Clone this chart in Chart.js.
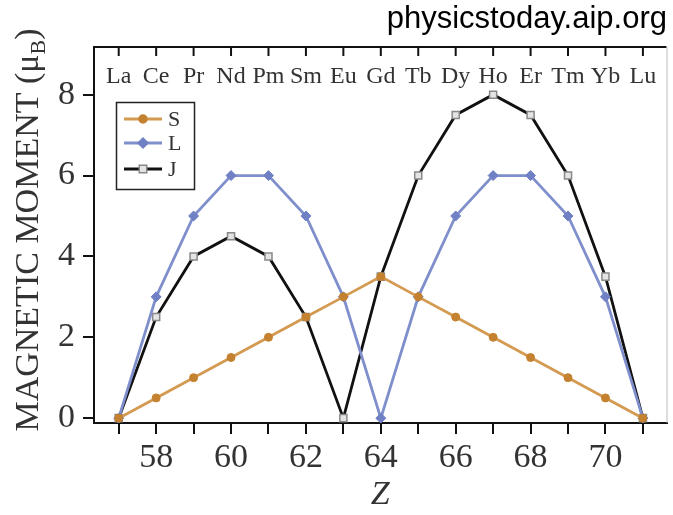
<!DOCTYPE html>
<html>
<head>
<meta charset="utf-8">
<script src="https://cdn.jsdelivr.net/npm/chart.js@4.4.1/dist/chart.umd.min.js"></script>
<style>
  html, body { margin: 0; padding: 0; background: #fff; }
  #wrap { width: 673px; height: 515px; }
</style>
</head>
<body>
<div id="wrap"><canvas id="momentChart" width="673" height="515"></canvas></div>
<script>
// lanthanide series, Z = 57 .. 71
const zValues = [57, 58, 59, 60, 61, 62, 63, 64, 65, 66, 67, 68, 69, 70, 71];
const elements = ["La", "Ce", "Pr", "Nd", "Pm", "Sm", "Eu", "Gd", "Tb", "Dy", "Ho", "Er", "Tm", "Yb", "Lu"];
const spinS = [0, 0.5, 1, 1.5, 2, 2.5, 3, 3.5, 3, 2.5, 2, 1.5, 1, 0.5, 0];
const orbitalL = [0, 3, 5, 6, 6, 5, 3, 0, 3, 5, 6, 6, 5, 3, 0];
const totalJ = [0, 2.5, 4, 4.5, 4, 2.5, 0, 3.5, 6, 7.5, 8, 7.5, 6, 3.5, 0];
const seriesNames = ["S", "L", "J"];

const serif = "'Liberation Serif', 'DejaVu Serif', serif";

function toPoints(values) {
  return zValues.map((z, i) => ({ x: z, y: values[i] }));
}

// top axis: inward ticks + element symbols, right border, y title, watermark
const decorations = {
  id: "decorations",
  afterDraw(chart) {
    const ctx = chart.ctx;
    const area = chart.chartArea;
    const xScale = chart.scales.x;

    ctx.save();
    ctx.strokeStyle = "#111";
    ctx.lineWidth = 2;
    ctx.beginPath();
    ctx.moveTo(area.left, area.top);
    ctx.lineTo(area.right, area.top);
    ctx.stroke();
    ctx.strokeStyle = "#bbb";
    ctx.lineWidth = 1;
    ctx.beginPath();
    ctx.moveTo(area.right + 0.5, area.top);
    ctx.lineTo(area.right + 0.5, area.bottom);
    ctx.stroke();

    ctx.strokeStyle = "#111";
    ctx.lineWidth = 2;
    ctx.fillStyle = "#333";
    ctx.font = "24px " + serif;
    ctx.textAlign = "center";
    ctx.textBaseline = "middle";
    zValues.forEach((z, i) => {
      const x = xScale.getPixelForValue(z);
      ctx.beginPath();
      ctx.moveTo(x, area.top);
      ctx.lineTo(x, area.top + 9);
      ctx.stroke();
      ctx.fillText(elements[i], x, area.top + 30);
    });

    // y axis title with subscript
    ctx.translate(26, 230);
    ctx.rotate(-Math.PI / 2);
    const big = "34px " + serif;
    const small = "22px " + serif;
    const main = "MAGNETIC MOMENT (\u03BC";
    ctx.font = big;
    const w1 = ctx.measureText(main).width;
    const w3 = ctx.measureText(")").width;
    ctx.font = small;
    const w2 = ctx.measureText("B").width;
    let x0 = -(w1 + w2 + w3) / 2;
    ctx.textAlign = "left";
    ctx.textBaseline = "alphabetic";
    ctx.fillStyle = "#333";
    ctx.font = big;
    ctx.fillText(main, x0, 12);
    ctx.font = small;
    ctx.fillText("B", x0 + w1, 19);
    ctx.font = big;
    ctx.fillText(")", x0 + w1 + w2, 12);
    ctx.restore();

    ctx.save();
    ctx.fillStyle = "#000";
    ctx.font = "31px 'Liberation Sans', Arial, sans-serif";
    ctx.textAlign = "right";
    ctx.textBaseline = "alphabetic";
    ctx.fillText("physicstoday.aip.org", 667, 28);
    ctx.restore();
  }
};

// boxed legend inside plot
const boxLegend = {
  id: "boxLegend",
  afterDraw(chart) {
    const ctx = chart.ctx;
    const rows = [119, 143, 169];
    ctx.save();
    ctx.strokeStyle = "#222";
    ctx.lineWidth = 1.5;
    ctx.strokeRect(116.5, 102.5, 78, 87);
    chart.data.datasets.forEach((ds, i) => {
      const y = rows[i];
      ctx.strokeStyle = ds.borderColor;
      ctx.lineWidth = 3;
      ctx.beginPath();
      ctx.moveTo(124, y);
      ctx.lineTo(162, y);
      ctx.stroke();
      ctx.fillStyle = ds.pointBackgroundColor;
      ctx.strokeStyle = ds.pointBorderColor;
      ctx.lineWidth = 1.5;
      const x = 143;
      const r = ds.pointRadius;
      ctx.beginPath();
      if (ds.pointStyle === "circle") {
        ctx.arc(x, y, r, 0, Math.PI * 2);
      } else if (ds.pointStyle === "rectRot") {
        ctx.moveTo(x, y - r); ctx.lineTo(x + r, y); ctx.lineTo(x, y + r); ctx.lineTo(x - r, y); ctx.closePath();
      } else {
        ctx.rect(x - r * 0.75, y - r * 0.75, r * 1.5, r * 1.5);
      }
      ctx.fill();
      ctx.stroke();
      ctx.fillStyle = "#333";
      ctx.font = "22px " + serif;
      ctx.textAlign = "left";
      ctx.textBaseline = "middle";
      ctx.fillText(seriesNames[i], 168, y + 1);
    });
    ctx.restore();
  }
};

const ctx = document.getElementById("momentChart").getContext("2d");
new Chart(ctx, {
  type: "line",
  data: {
    datasets: [
      {
        label: seriesNames[0],
        data: toPoints(spinS),
        borderColor: "#d49a52",
        borderWidth: 2.8,
        pointStyle: "circle",
        pointRadius: 4,
        pointBackgroundColor: "#c4812f",
        pointBorderColor: "#c4812f",
        pointBorderWidth: 1
      },
      {
        label: seriesNames[1],
        data: toPoints(orbitalL),
        borderColor: "#7f8fcc",
        borderWidth: 2.8,
        pointStyle: "rectRot",
        pointRadius: 5,
        pointBackgroundColor: "#7080c4",
        pointBorderColor: "#7080c4",
        pointBorderWidth: 1
      },
      {
        label: seriesNames[2],
        data: toPoints(totalJ),
        borderColor: "#111",
        borderWidth: 2.8,
        pointStyle: "rect",
        pointRadius: 5,
        pointBackgroundColor: "#e4e4e4",
        pointBorderColor: "#888",
        pointBorderWidth: 1.5
      }
    ]
  },
  options: {
    responsive: false,
    animation: false,
    layout: { padding: { top: 47, right: 1, left: 0, bottom: 0 } },
    plugins: {
      legend: { display: false },
      tooltip: { enabled: false }
    },
    scales: {
      x: {
        type: "linear",
        min: 56.34,
        max: 71.63,
        afterFit: (scale) => { scale.height = 92; },
        grid: { drawOnChartArea: false, drawTicks: true, tickLength: 11, color: "#111", lineWidth: 2 },
        border: { display: true, color: "#111", width: 2 },
        ticks: {
          stepSize: 1,
          includeBounds: false,
          autoSkip: false,
          maxRotation: 0,
          padding: 4,
          color: "#333",
          font: { family: serif, size: 34 },
          callback: (v) => (v % 2 === 0 ? String(v) : "")
        },
        title: {
          display: true,
          text: "Z",
          color: "#333",
          font: { family: serif, size: 34, style: "italic" },
          padding: { top: 0, bottom: 0 }
        }
      },
      y: {
        min: -0.12,
        max: 9.18,
        afterFit: (scale) => { scale.width = 94; },
        grid: { drawOnChartArea: false, drawTicks: true, tickLength: 11, color: "#111", lineWidth: 2 },
        border: { display: true, color: "#111", width: 2 },
        ticks: {
          stepSize: 2,
          includeBounds: false,
          padding: 8,
          color: "#333",
          font: { family: serif, size: 34 }
        }
      }
    }
  },
  plugins: [decorations, boxLegend]
});
</script>
</body>
</html>
